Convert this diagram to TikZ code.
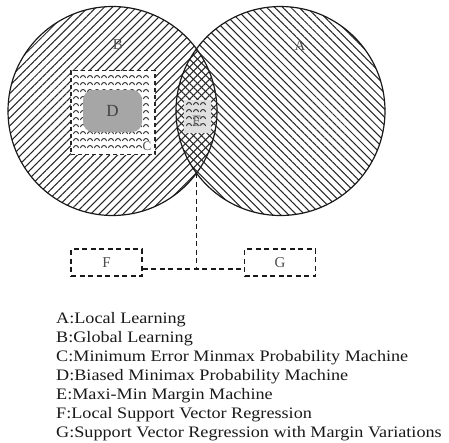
\documentclass[tikz,border=0pt]{standalone}
\usepackage{fontspec}
\setmainfont{Liberation Serif}
\newfontfamily\legendfont[FakeStretch=1.135]{Liberation Serif}
\usetikzlibrary{patterns.meta,positioning}

\begin{document}
\begin{tikzpicture}[x=1pt, y=-1pt, every node/.style={font=\fontsize{15}{17}\selectfont, text=black!70}, setcircle/.style={circle, draw=black!90, line width=1.2pt, minimum size=209pt, inner sep=0pt}, dashbox/.style={draw=black!90, dash pattern=on 5pt off 3.5pt, line width=1.3pt, minimum width=71pt, minimum height=27pt, inner sep=0pt}, scalemark/.style={draw=black!80, line width=0.9pt}, conn/.style={draw=black!90, dash pattern=on 5pt off 3.5pt, line width=1.3pt}]
\useasboundingbox (0,0) rectangle (449,442);
\clip (0,0) rectangle (449,442);
% the two sets
\node[setcircle, pattern={Lines[angle=45,distance=5.7pt,line width=1.05pt]}, pattern color=black!85] (setB) at (112.5,111) {};
\node[setcircle, pattern={Lines[angle=-45,distance=5.7pt,line width=1.05pt]}, pattern color=black!85] (setA) at (280.5,111) {};
\node (labB) at (118,45) {B};
\node (labA) at (300,46) {A};
% C with D inside
\node[draw=black!85, dash pattern=on 4pt off 3pt, line width=1.1pt, fill=white, minimum size=84pt, inner sep=0pt] (boxC) at (113,112.5) {};
\foreach \x in {76,83,...,150}
  \foreach \y in {78,85,...,152}
    \draw[scalemark] (\x-2.5,\y) arc[start angle=180, end angle=360, radius=2.5];
\node[fill=black!35, rounded corners=10pt, minimum width=59pt, minimum height=42pt, inner sep=0pt, font=\fontsize{17}{19}\selectfont, text=black!75] (boxD) at (112.5,111) {D};
\node[fill=white, inner sep=0.5pt, font=\fontsize{13}{15}\selectfont] (labC) at (147,146) {C};
% E in the overlap
\node[fill=black!12, minimum width=27pt, minimum height=33pt, inner sep=0pt] (boxE) at (197.5,116.5) {};
\foreach \x in {189,196,203}
  \foreach \y in {105,112,119,126}
    \draw[scalemark] (\x-2.5,\y) arc[start angle=180, end angle=360, radius=2.5];
\node[text=black!55, font=\fontsize{16}{18}\selectfont] (labE) at (197,121) {E};
% F and G
\coordinate (lensbot) at (196.5,173);
\node[dashbox] (boxF) at (106.5,262.5) {F};
\node[dashbox] (boxG) at (280,262.5) {G};
\coordinate (join) at (lensbot |- {(0,269)});
\draw[conn] (lensbot) -- (join);
\draw[conn] ([yshift=-6.5pt]boxF.east) -- ([yshift=-6.5pt]boxG.west);
% legend
\node[anchor=north west, align=left, inner sep=0pt, text=black!90, font=\legendfont\fontsize{16}{19}\selectfont] (legend) at (56,312.5) {A:Local Learning\\B:Global Learning\\C:Minimum Error Minmax Probability Machine\\D:Biased Minimax Probability Machine\\E:Maxi-Min Margin Machine\\F:Local Support Vector Regression\\G:Support Vector Regression with Margin Variations};
\end{tikzpicture}
\end{document}
